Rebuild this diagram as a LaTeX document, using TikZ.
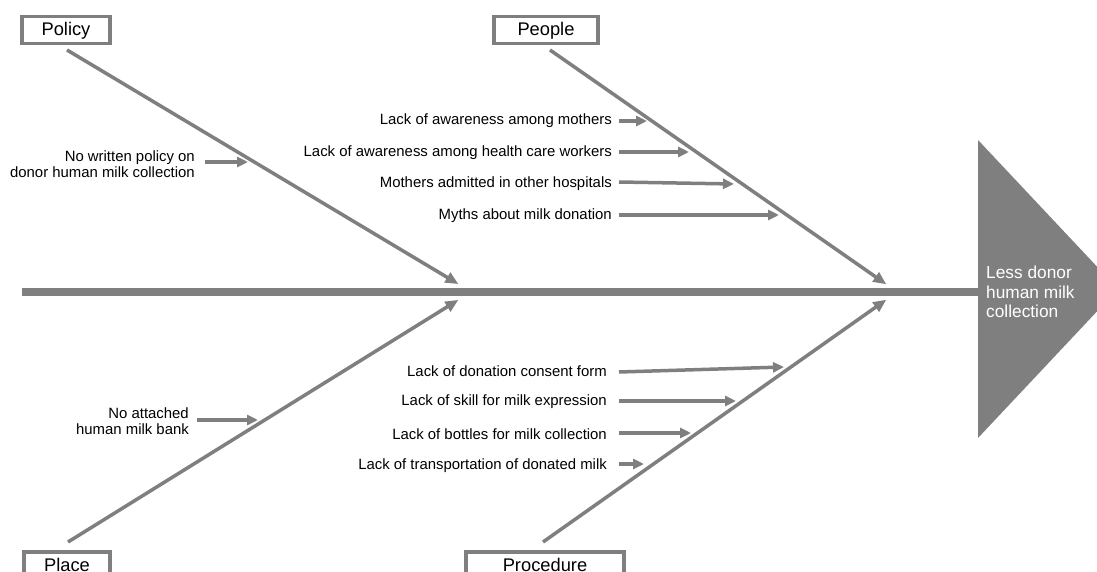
\documentclass[tikz,border=0pt]{standalone}
\usepackage{fontspec}
\setmainfont{Liberation Sans}
\usetikzlibrary{arrows.meta}
\definecolor{fg}{HTML}{7F7F7F}
\begin{document}
\begin{tikzpicture}[x=1pt,y=-1pt,
  catbox/.style={draw=fg,line width=3.5pt,fill=white,font=\fontsize{18.3}{20}\selectfont,minimum height=27pt,inner sep=0pt,text height=13pt,text depth=1pt},
  bone/.style={draw=fg,line width=3.5pt,-{Triangle[length=13pt,width=11pt]},shorten >=-4pt},
  cause/.style={draw=fg,line width=3.5pt,-{Triangle[length=11pt,width=10pt]}},
  lbl/.style={font=\fontsize{14.9}{16}\selectfont,anchor=east,inner sep=0pt},
  lbl2/.style={font=\fontsize{14.9}{15.5}\selectfont,anchor=east,align=right,inner sep=0pt}]
\useasboundingbox (0,0) rectangle (1097,572);
% head
\fill[fg] (978,140) -- (1118,289) -- (978,438) -- cycle;
\node[anchor=west,align=left,text=white,font=\fontsize{17.3}{19.5}\selectfont,inner sep=0pt] (effect) at (986,292) {Less donor\\human milk\\collection};
% spine
\draw[fg,line width=8pt] (22,292) -- (979,292);
% category boxes
\node[catbox,minimum width=88pt] (policy) at (66,30) {Policy};
\node[catbox,minimum width=104pt] (people) at (546,30) {People};
\node[catbox,minimum width=86pt,anchor=north] (place) at (67,550) {Place};
\node[catbox,minimum width=158pt,anchor=north] (procedure) at (545,550) {Procedure};
% bone endpoints
\coordinate (s1) at (67,50);
\coordinate (e1) at (455,282);
\coordinate (s2) at (550,50);
\coordinate (e2) at (883,282);
\coordinate (s3) at (68,542);
\coordinate (e3) at (455,302);
\coordinate (s4) at (543,542);
\coordinate (e4) at (883,302);
\draw[bone] (s1) -- (e1);
\draw[bone] (s2) -- (e2);
\draw[bone] (s3) -- (e3);
\draw[bone] (s4) -- (e4);
% policy cause
\node[lbl2] (c1) at (195,164) {No written policy on\\donor human milk collection};
\coordinate (t1) at (248,162);
\draw[cause] (205,162) -- (t1);
% people causes
\node[lbl] (p1) at (612,121) {Lack of awareness among mothers};
\node[lbl] (p2) at (612,153) {Lack of awareness among health care workers};
\node[lbl] (p3) at (612,184) {Mothers admitted in other hospitals};
\node[lbl] (p4) at (612,216) {Myths about milk donation};
\coordinate (tp1) at (647,121);
\coordinate (tp2) at (689,152);
\coordinate (tp3) at (734,184);
\coordinate (tp4) at (779,215);
\draw[cause] (p1.east |- tp1) ++(7,0) -- (tp1);
\draw[cause] (p2.east |- tp2) ++(7,0) -- (tp2);
\draw[cause] ([xshift=7pt,yshift=2pt]p3.east) -- (tp3);
\draw[cause] (p4.east |- tp4) ++(7,0) -- (tp4);
% place cause
\node[lbl2] (c3) at (189,421) {No attached\\human milk bank};
\coordinate (t3) at (258,420);
\draw[cause] (197,420) -- (t3);
% procedure causes
\node[lbl] (q1) at (607,371) {Lack of donation consent form};
\node[lbl] (q2) at (607,402) {Lack of skill for milk expression};
\node[lbl] (q3) at (607,434) {Lack of bottles for milk collection};
\node[lbl] (q4) at (607,466) {Lack of transportation of donated milk};
\coordinate (tq1) at (784,367);
\coordinate (tq2) at (736,401);
\coordinate (tq3) at (691,433);
\coordinate (tq4) at (644,464);
\draw[cause] ([xshift=12pt,yshift=-1pt]q1.east) -- (tq1);
\draw[cause] (q2.east |- tq2) ++(12,0) -- (tq2);
\draw[cause] (q3.east |- tq3) ++(12,0) -- (tq3);
\draw[cause] (q4.east |- tq4) ++(12,0) -- (tq4);
\end{tikzpicture}
\end{document}
